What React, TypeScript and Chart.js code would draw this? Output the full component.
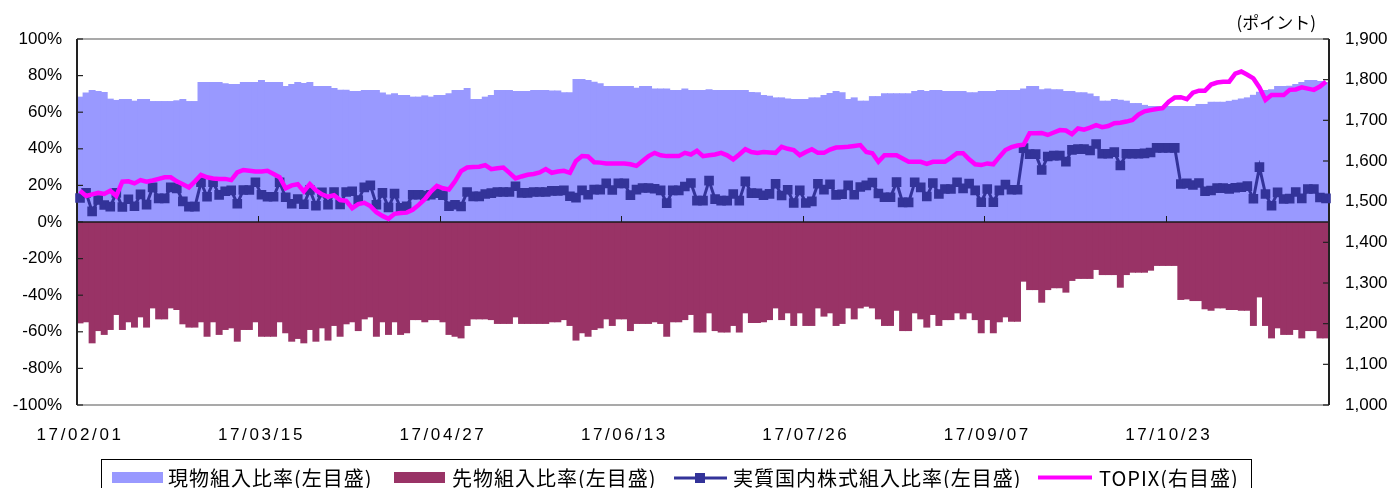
import React, { useEffect, useRef } from 'react';
import { Chart, registerables } from 'chart.js';

Chart.register(...registerables);

// Calendar: Tokyo business days 2017/02/01 - 2017/11/30
const HOLIDAYS = ['2017-03-20', '2017-05-03', '2017-05-04', '2017-05-05', '2017-07-17', '2017-08-11', '2017-09-18', '2017-10-09', '2017-11-03', '2017-11-23'];
const TICK_LABELS = ['17/02/01', '17/03/15', '17/04/27', '17/06/13', '17/07/26', '17/09/07', '17/10/23'];
const SERIES_NAMES = ['現物組入比率(左目盛)', '先物組入比率(左目盛)', '実質国内株式組入比率(左目盛)', 'TOPIX(右目盛)'];
const RIGHT_UNIT = '(ポイント)';

const SPOT = [
  68.5, 70.7, 72.1, 71.6, 71.0, 67.4, 66.7, 67.2, 67.2, 66.3,
  67.2, 67.2, 66.1, 66.1, 66.1, 66.1, 66.5, 67.2, 66.1, 66.1,
  76.5, 76.5, 76.5, 76.5, 75.8, 75.4, 75.4, 76.5, 76.5, 76.5,
  77.6, 76.5, 76.5, 76.5, 74.3, 75.4, 76.5, 76.0, 76.5, 74.3,
  74.3, 74.3, 73.2, 72.3, 72.3, 71.6, 71.6, 72.1, 72.1, 72.1,
  70.7, 69.7, 70.3, 69.4, 69.4, 68.5, 68.5, 69.2, 68.5, 69.4,
  69.4, 70.3, 72.1, 72.1, 73.2, 67.2, 67.2, 68.5, 69.4, 72.1,
  72.1, 72.1, 71.6, 71.6, 71.6, 72.1, 72.1, 72.1, 71.8, 71.8,
  70.9, 70.9, 78.1, 78.1, 77.6, 76.7, 75.8, 74.3, 74.3, 74.3,
  74.3, 74.3, 73.4, 74.3, 74.3, 73.0, 73.0, 73.0, 72.1, 72.1,
  73.0, 72.1, 72.1, 72.1, 72.5, 72.1, 72.1, 72.1, 72.1, 72.1,
  72.1, 71.0, 70.9, 69.4, 69.0, 68.1, 68.1, 67.5, 67.2, 67.2,
  67.2, 68.1, 68.1, 69.4, 70.5, 71.6, 70.9, 67.2, 68.1, 66.3,
  66.3, 68.8, 68.8, 70.3, 70.3, 70.3, 70.3, 70.3, 71.6, 72.1,
  71.6, 72.1, 72.1, 71.6, 71.6, 71.6, 71.6, 70.9, 70.9, 71.6,
  71.6, 71.6, 72.1, 72.1, 72.1, 72.1, 73.0, 74.3, 74.3, 72.5,
  73.0, 72.5, 72.5, 71.6, 71.6, 70.9, 70.9, 70.2, 68.8, 66.3,
  66.3, 67.2, 66.8, 66.3, 65.0, 65.0, 64.0, 63.4, 63.4, 63.4,
  63.4, 63.4, 63.4, 63.4, 63.4, 64.5, 64.5, 65.7, 65.7, 65.7,
  66.2, 66.8, 67.5, 68.1, 69.5, 71.2, 72.1, 72.5, 74.3, 74.3,
  74.5, 75.4, 76.5, 77.6, 77.6, 77.0, 76.5
];

const FUTURES = [
  -55.4, -54.8, -66.3, -59.6, -61.7, -59.0, -50.8, -59.0, -54.8, -57.7,
  -52.1, -57.7, -47.2, -53.2, -53.2, -47.2, -48.1, -55.9, -57.7, -57.7,
  -54.8, -62.7, -54.8, -61.7, -59.0, -58.1, -65.4, -59.0, -59.0, -54.8,
  -62.7, -62.7, -62.7, -54.8, -60.8, -65.4, -63.9, -66.3, -59.0, -65.4,
  -58.1, -64.8, -56.8, -62.7, -55.9, -54.8, -59.6, -53.2, -52.1, -62.7,
  -54.8, -61.7, -54.8, -61.7, -60.8, -53.6, -53.6, -54.8, -53.6, -53.6,
  -54.8, -61.7, -62.7, -63.6, -56.8, -53.2, -53.2, -53.2, -53.6, -55.7,
  -55.7, -55.7, -52.1, -55.7, -55.7, -55.7, -55.7, -55.7, -54.8, -54.8,
  -53.6, -56.8, -64.8, -60.8, -62.7, -59.0, -58.1, -53.2, -56.8, -53.2,
  -53.2, -59.6, -55.7, -55.7, -55.7, -54.8, -55.7, -62.7, -54.8, -54.8,
  -53.6, -50.8, -60.4, -60.4, -49.9, -59.6, -60.4, -60.4, -56.8, -60.4,
  -49.9, -55.2, -55.2, -54.8, -53.6, -47.2, -53.6, -49.9, -56.8, -49.9,
  -56.8, -56.8, -47.2, -51.7, -49.9, -56.8, -55.7, -47.2, -53.2, -47.2,
  -46.3, -47.2, -53.2, -56.8, -56.8, -48.5, -59.6, -59.6, -49.9, -53.2,
  -57.7, -50.8, -56.8, -53.6, -53.6, -49.9, -53.2, -49.9, -53.6, -60.8,
  -53.6, -60.8, -54.8, -52.1, -54.5, -54.5, -32.6, -37.2, -37.2, -44.1,
  -37.2, -36.2, -36.2, -38.6, -32.2, -31.1, -31.1, -31.1, -26.2, -29.0,
  -29.0, -29.0, -35.9, -29.0, -27.7, -27.7, -27.7, -26.6, -24.0, -24.0,
  -24.0, -24.0, -42.6, -42.3, -43.2, -43.2, -47.7, -48.5, -47.2, -47.2,
  -48.1, -48.1, -48.5, -48.5, -56.8, -41.2, -56.8, -63.6, -58.1, -61.7,
  -61.7, -59.0, -63.6, -59.6, -59.6, -63.6, -63.6
];

const REAL = [
  13.1, 15.9, 5.8, 12.0, 9.3, 8.4, 15.9, 8.2, 12.4, 8.6,
  15.1, 9.5, 18.9, 12.9, 12.9, 18.9, 18.4, 11.3, 8.4, 8.4,
  21.7, 13.8, 21.7, 14.8, 16.8, 17.3, 10.0, 17.5, 17.5, 21.7,
  14.9, 13.8, 13.8, 21.7, 13.5, 10.0, 12.6, 9.7, 17.5, 8.9,
  16.2, 9.5, 16.4, 9.6, 16.4, 16.8, 12.0, 18.9, 20.0, 9.4,
  15.9, 8.0, 15.5, 7.7, 8.6, 14.9, 14.9, 14.4, 14.9, 15.8,
  14.6, 8.6, 9.4, 8.5, 16.4, 14.0, 14.0, 15.3, 15.8, 16.4,
  16.4, 16.4, 19.5, 15.9, 15.9, 16.4, 16.4, 16.4, 17.0, 17.0,
  17.3, 14.1, 13.3, 17.3, 14.9, 17.7, 17.7, 21.1, 17.5, 21.1,
  21.1, 14.7, 17.7, 18.6, 18.6, 18.2, 17.3, 10.3, 17.3, 17.3,
  19.4, 21.3, 11.7, 11.7, 22.6, 12.5, 11.7, 11.7, 15.3, 11.7,
  22.2, 15.8, 15.7, 14.6, 15.4, 20.9, 14.5, 17.6, 10.4, 17.3,
  10.4, 11.3, 20.9, 17.7, 20.6, 14.8, 15.2, 20.0, 14.9, 19.1,
  20.0, 21.6, 15.6, 13.5, 13.5, 21.8, 10.7, 10.7, 21.7, 18.9,
  13.9, 21.3, 15.3, 18.0, 18.0, 21.7, 18.4, 21.0, 17.3, 10.8,
  18.0, 10.8, 17.3, 20.4, 17.6, 17.6, 40.4, 37.1, 37.1, 28.4,
  35.8, 36.3, 36.3, 33.0, 39.4, 39.8, 39.8, 39.1, 42.6, 37.3,
  37.3, 38.2, 30.9, 37.3, 37.3, 37.3, 37.5, 38.0, 40.5, 40.5,
  40.5, 40.5, 20.8, 21.1, 20.2, 21.3, 16.8, 17.2, 18.5, 18.5,
  18.1, 18.7, 19.0, 19.6, 12.7, 30.0, 15.3, 8.9, 16.2, 12.6,
  12.8, 16.4, 12.9, 18.0, 18.0, 13.4, 12.9
];

const TOPIX = [
  1527, 1514, 1518, 1522, 1519, 1527, 1514, 1549, 1550, 1545,
  1553, 1549, 1552, 1556, 1560, 1560, 1550, 1543, 1535, 1550,
  1566, 1560, 1557, 1556, 1556, 1553, 1572, 1578, 1576, 1574,
  1574, 1576, 1568, 1560, 1533, 1540, 1543, 1525, 1543, 1528,
  1518, 1512, 1516, 1504, 1502, 1484, 1494, 1497, 1489, 1474,
  1465, 1458, 1470, 1472, 1473, 1480, 1492, 1506, 1525, 1539,
  1533, 1530, 1550, 1575, 1584, 1585, 1586, 1590, 1580, 1582,
  1584, 1571, 1557, 1562, 1566, 1568, 1572, 1580, 1571, 1574,
  1576, 1571, 1600, 1612, 1611, 1597, 1596, 1594, 1594, 1594,
  1594, 1592, 1588, 1600, 1612, 1620, 1614, 1612, 1612, 1612,
  1620, 1616, 1625, 1612, 1614, 1616, 1620, 1614, 1604, 1616,
  1629, 1622, 1620, 1622, 1621, 1620, 1635, 1630, 1627, 1614,
  1622, 1629, 1620, 1620, 1628, 1633, 1634, 1635, 1637, 1639,
  1622, 1619, 1598, 1614, 1614, 1614, 1606, 1598, 1598, 1598,
  1593, 1598, 1598, 1598, 1608, 1619, 1619, 1604, 1592, 1590,
  1594, 1592, 1610, 1627, 1634, 1638, 1640, 1668, 1668, 1669,
  1664, 1670, 1676, 1675, 1666, 1680, 1677, 1682, 1688, 1683,
  1686, 1693, 1694, 1697, 1701, 1714, 1722, 1725, 1728, 1730,
  1746, 1756, 1757, 1752, 1768, 1773, 1773, 1788, 1793, 1795,
  1795, 1815, 1820, 1812, 1803, 1781, 1750, 1762, 1762, 1762,
  1775, 1776, 1781, 1778, 1775, 1783, 1795
];

const COLORS = ['#9999FF', '#993366', '#333399', '#FF00FF'];

function businessDays(): string[] {
  const out: string[] = [];
  const d = new Date(Date.UTC(2017, 1, 1));
  const end = Date.UTC(2017, 10, 30);
  while (d.getTime() <= end) {
    const wd = d.getUTCDay();
    const iso = d.toISOString().slice(0, 10);
    if (wd !== 0 && wd !== 6 && !HOLIDAYS.includes(iso)) out.push(iso.slice(2).replace(/-/g, '/'));
    d.setUTCDate(d.getUTCDate() + 1);
  }
  return out;
}

const DATES = businessDays();

const TICK_FONT = '"Liberation Sans", Arial, sans-serif';
const JP_FONT = '"Noto Sans CJK JP", "Noto Sans", sans-serif';

const decorPlugin = {
  id: 'decor',
  afterDatasetDraw(chart: any, args: any) {
    if (args.index !== 0) return; // after spot bars, before lines
    const { ctx, chartArea: ca, scales } = chart;
    const yl = scales.y;
    const yr = scales.y1;
    const xs = scales.x;
    ctx.save();
    const seg = (x1: number, y1: number, x2: number, y2: number) => {
      ctx.beginPath();
      ctx.moveTo(x1, y1);
      ctx.lineTo(x2, y2);
      ctx.stroke();
    };
    ctx.strokeStyle = '#8c8c8c';
    ctx.lineWidth = 1.5;
    seg(ca.left, ca.top, ca.right, ca.top);
    seg(ca.left, ca.bottom, ca.right, ca.bottom);
    const y0 = yl.getPixelForValue(0);
    ctx.strokeStyle = '#1a1a1a';
    ctx.lineWidth = 1.5;
    seg(ca.left, y0, ca.right, y0);
    const cw = (ca.right - ca.left) / DATES.length;
    ctx.lineWidth = 1;
    DATES.forEach((d, i) => {
      if (i > 0 && TICK_LABELS.includes(d)) {
        const px = Math.round(xs.getPixelForValue(i) - cw / 2) + 0.5;
        seg(px, y0, px, y0 - 6);
      }
    });
    ctx.strokeStyle = '#222';
    ctx.lineWidth = 2;
    seg(ca.left, ca.top, ca.left, ca.bottom);
    seg(ca.right, ca.top, ca.right, ca.bottom);
    ctx.lineWidth = 1.2;
    yl.ticks.forEach((t: any) => {
      const py = yl.getPixelForValue(t.value);
      seg(ca.left, py, ca.left + 6, py);
    });
    yr.ticks.forEach((t: any) => {
      const py = yr.getPixelForValue(t.value);
      seg(ca.right - 6, py, ca.right, py);
    });
    ctx.restore();
  },
  afterDatasetsDraw(chart: any) {
    // x-axis labels (z = 1) are drawn after this hook: widen their spacing
    (chart.ctx as any).letterSpacing = '2.6px';
  },
  afterDraw(chart: any) {
    const { ctx, chartArea: ca } = chart;
    (ctx as any).letterSpacing = '0px';
    ctx.save();
    ctx.fillStyle = '#000';
    ctx.font = `17px ${JP_FONT}`;
    ctx.textAlign = 'right';
    ctx.textBaseline = 'middle';
    ctx.fillText(RIGHT_UNIT, ca.right - 13, 23);

    // legend
    const top = 459;
    ctx.strokeStyle = '#000';
    ctx.lineWidth = 1;
    ctx.strokeRect(101.5, top + 0.5, 1150, 40);
    const cy = 478.5;
    ctx.font = `20px ${JP_FONT}`;
    ctx.textAlign = 'left';
    (ctx as any).letterSpacing = '1px';
    ctx.fillStyle = COLORS[0];
    ctx.fillRect(112, 472, 51, 11);
    ctx.fillStyle = '#000';
    ctx.fillText(chart.data.datasets[0].label, 168, cy);
    ctx.fillStyle = COLORS[1];
    ctx.fillRect(394, 472, 51, 11);
    ctx.fillStyle = '#000';
    ctx.fillText(chart.data.datasets[1].label, 452, cy);
    ctx.strokeStyle = COLORS[2];
    ctx.lineWidth = 3;
    ctx.beginPath();
    ctx.moveTo(674, 478);
    ctx.lineTo(727, 478);
    ctx.stroke();
    ctx.fillStyle = COLORS[2];
    ctx.fillRect(695, 473, 10, 10);
    ctx.fillStyle = '#000';
    ctx.fillText(chart.data.datasets[2].label, 733, cy);
    ctx.strokeStyle = COLORS[3];
    ctx.lineWidth = 4;
    ctx.beginPath();
    ctx.moveTo(1038, 477.5);
    ctx.lineTo(1092, 477.5);
    ctx.stroke();
    ctx.fillStyle = '#000';
    ctx.fillText(chart.data.datasets[3].label, 1099, cy);
    (ctx as any).letterSpacing = '0px';
    ctx.restore();
  },
};

export default function App() {
  const ref = useRef<HTMLCanvasElement | null>(null);
  useEffect(() => {
    if (!ref.current) return;
    const chart = new Chart(ref.current, {
      type: 'bar',
      data: {
        labels: DATES,
        datasets: [
          {
            type: 'bar',
            label: SERIES_NAMES[0],
            data: SPOT,
            backgroundColor: COLORS[0],
            borderWidth: 0,
            barPercentage: 1.15,
            categoryPercentage: 1,
            yAxisID: 'y',
            order: 2,
          },
          {
            type: 'bar',
            label: SERIES_NAMES[1],
            data: FUTURES,
            backgroundColor: COLORS[1],
            borderWidth: 0,
            barPercentage: 1.15,
            categoryPercentage: 1,
            yAxisID: 'y',
            order: 3,
          },
          {
            type: 'line',
            label: SERIES_NAMES[2],
            data: REAL,
            borderColor: COLORS[2],
            backgroundColor: COLORS[2],
            borderWidth: 3,
            pointStyle: 'rect',
            pointRadius: 6.8,
            pointBorderWidth: 0,
            pointBackgroundColor: COLORS[2],
            tension: 0,
            yAxisID: 'y',
            order: 1,
          },
          {
            type: 'line',
            label: SERIES_NAMES[3],
            data: TOPIX,
            borderColor: COLORS[3],
            backgroundColor: COLORS[3],
            borderWidth: 4.5,
            pointRadius: 0,
            tension: 0,
            yAxisID: 'y1',
            order: 0,
          },
        ] as any,
      },
      options: {
        responsive: false,
        animation: false,
        devicePixelRatio: 1,
        layout: { padding: { top: 39, left: 0, right: 0, bottom: 0 } },
        plugins: {
          legend: { display: false },
          tooltip: { enabled: false },
        },
        scales: {
          x: {
            type: 'category',
            stacked: true,
            offset: true,
            grid: { display: false, drawTicks: false },
            border: { display: false },
            ticks: {
              z: 1,
              autoSkip: false,
              maxRotation: 0,
              minRotation: 0,
              padding: 20,
              color: '#000',
              font: { size: 17, family: TICK_FONT },
              callback: (_v: any, i: number) => (TICK_LABELS.includes(DATES[i]) ? DATES[i] : ''),
            },
            afterFit: (s: any) => {
              s.height = 83;
            },
          },
          y: {
            position: 'left',
            min: -100,
            max: 100,
            grid: { display: false, drawTicks: false },
            border: { display: false },
            ticks: {
              stepSize: 20,
              padding: 15,
              color: '#000',
              font: { size: 17, family: TICK_FONT },
              callback: (v: any) => `${v}%`,
            },
            afterFit: (s: any) => {
              s.width = 77;
            },
          },
          y1: {
            position: 'right',
            min: 1000,
            max: 1900,
            grid: { display: false, drawTicks: false },
            border: { display: false },
            ticks: {
              stepSize: 100,
              padding: 16,
              color: '#000',
              font: { size: 17, family: TICK_FONT },
              callback: (v: any) => Number(v).toLocaleString('en-US'),
            },
            afterFit: (s: any) => {
              s.width = 65;
            },
          },
        },
      } as any,
      plugins: [decorPlugin],
    });
    return () => chart.destroy();
  }, []);
  return (
    <div style={{ position: 'absolute', left: 0, top: 0, width: 1394, height: 488, background: '#fff' }}>
      <canvas ref={ref} width={1394} height={488} style={{ display: 'block' }} />
    </div>
  );
}
